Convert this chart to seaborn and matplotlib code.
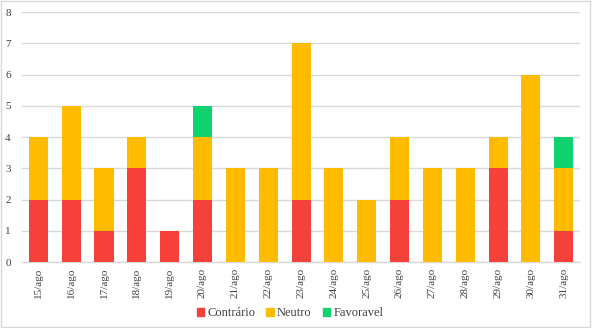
import numpy as np
import pandas as pd
import seaborn as sns
import matplotlib.pyplot as plt
from matplotlib.patches import Patch

dias = ["15/ago", "16/ago", "17/ago", "18/ago", "19/ago", "20/ago", "21/ago",
        "22/ago", "23/ago", "24/ago", "25/ago", "26/ago", "27/ago", "28/ago",
        "29/ago", "30/ago", "31/ago"]
contrario = [2, 2, 1, 3, 1, 2, 0, 0, 2, 0, 0, 2, 0, 0, 3, 0, 1]
neutro =    [2, 3, 2, 1, 0, 2, 3, 3, 5, 3, 2, 2, 3, 3, 1, 6, 2]
favoravel = [0, 0, 0, 0, 0, 1, 0, 0, 0, 0, 0, 0, 0, 0, 0, 0, 1]

cores = {"Contrário": "#F5413A", "Neutro": "#FFBB00", "Favoravel": "#11D36E"}

sns.set_theme(style="white")
plt.rcParams["font.family"] = ["Liberation Serif", "DejaVu Serif"]

df = pd.DataFrame({"dia": dias, "Contrário": contrario,
                   "Neutro": neutro, "Favoravel": favoravel})
df["c"] = df["Contrário"]
df["cn"] = df["c"] + df["Neutro"]
df["cnf"] = df["cn"] + df["Favoravel"]

fig = plt.figure(figsize=(5.92, 3.28), dpi=100)
ax = fig.add_axes([0.037, 0.201, 0.943, 0.762])

# stacked bars drawn as overlapping cumulative totals, top layer first
for col, nome in [("cnf", "Favoravel"), ("cn", "Neutro"), ("c", "Contrário")]:
    sns.barplot(data=df, x="dia", y=col, color=cores[nome], width=0.58,
                saturation=1, ax=ax, zorder=3, linewidth=0)

ax.set_ylim(0, 8)
ax.set_xlim(-0.5, len(dias) - 0.5)
ax.set_yticks(range(0, 9))
ax.set_xlabel("")
ax.set_ylabel("")
ax.yaxis.grid(True, color="#D9D9D9", linewidth=1, zorder=0)
ax.set_axisbelow(True)
for s in ["top", "right", "left"]:
    ax.spines[s].set_visible(False)
ax.spines["bottom"].set_color("#D9D9D9")
ax.spines["bottom"].set_linewidth(1)
ax.tick_params(axis="x", labelrotation=90, labelsize=8, colors="#404040",
               length=0, pad=4)
ax.tick_params(axis="y", labelsize=8, colors="#404040", length=0, pad=8)

handles = [Patch(color=cores[k], label=k) for k in ["Contrário", "Neutro", "Favoravel"]]
fig.legend(handles=handles, loc="center", bbox_to_anchor=(0.49, 0.045), ncol=3,
           frameon=False, prop={"family": "Liberation Serif", "size": 9},
           handlelength=0.6, handleheight=0.6,
           handletextpad=0.25, columnspacing=0.9, labelcolor="#404040")

fig.patches.append(plt.Rectangle((0.002, 0.003), 0.995, 0.993, transform=fig.transFigure,
                                 fill=False, edgecolor="#D9D9D9", linewidth=1))

fig.savefig("out.png", dpi=100)
